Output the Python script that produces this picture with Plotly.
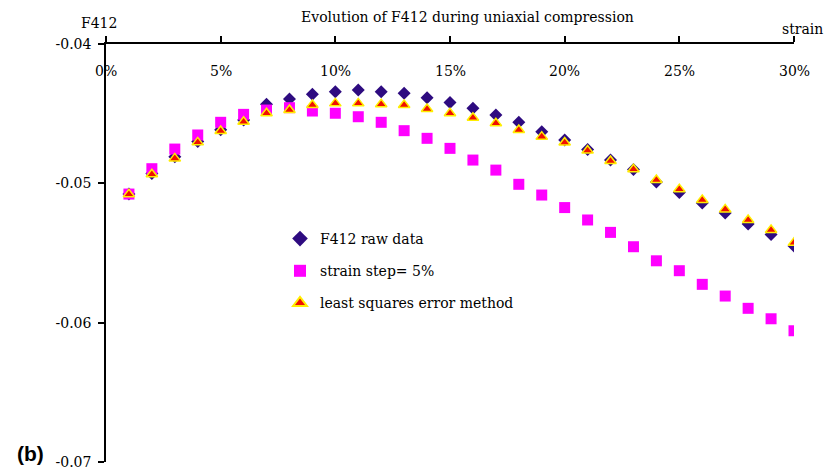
import plotly.graph_objects as go

# strain levels (fraction) and F412 values for the three series
strain = [i / 100 for i in range(1, 31)]

raw_data = [-0.05077, -0.04930, -0.04810, -0.04700, -0.04615, -0.04545,
            -0.04433, -0.04395, -0.04361, -0.04342, -0.04330, -0.04342,
            -0.04354, -0.04385, -0.04419, -0.04462, -0.04510, -0.04562,
            -0.04630, -0.04689, -0.04757, -0.04833, -0.04901, -0.04991,
            -0.05066, -0.05141, -0.05213, -0.05292, -0.05368, -0.05450]

step_5pct = [-0.05077, -0.04895, -0.04754, -0.04653, -0.04562, -0.04505,
             -0.04474, -0.04457, -0.04481, -0.04497, -0.04522, -0.04562,
             -0.04622, -0.04677, -0.04749, -0.04833, -0.04905, -0.05007,
             -0.05084, -0.05174, -0.05263, -0.05352, -0.05455, -0.05556,
             -0.05627, -0.05725, -0.05809, -0.05897, -0.05972, -0.06058]

least_squares = [-0.05079, -0.04935, -0.04821, -0.04706, -0.04625, -0.04558,
                 -0.04497, -0.04474, -0.04438, -0.04426, -0.04426, -0.04433,
                 -0.04438, -0.04467, -0.04497, -0.04529, -0.04569, -0.04617,
                 -0.04665, -0.04707, -0.04765, -0.04840, -0.04899, -0.04976,
                 -0.05043, -0.05120, -0.05187, -0.05263, -0.05335, -0.05426]

x_ticks = [0, 0.05, 0.10, 0.15, 0.20, 0.25, 0.30]
x_tick_labels = ["0%", "5%", "10%", "15%", "20%", "25%", "30%"]
y_ticks = [-0.04, -0.05, -0.06, -0.07]
y_tick_labels = ["-0.04", "-0.05", "-0.06", "-0.07"]

SERIF = "DejaVu Serif"
FS = 14

# plot area in pixels
L, R, T, B = 106, 31, 44, 8
PW, PH = 825 - L - R, 470 - T - B

fig = go.Figure()
fig.add_trace(go.Scatter(
    x=strain, y=raw_data, mode="markers", name="F412 raw data",
    legendgroup="a",
    marker=dict(symbol="diamond", size=10, color="#2e0b80",
                line=dict(width=0))))
fig.add_trace(go.Scatter(
    x=strain, y=step_5pct, mode="markers", name="strain step= 5%",
    legendgroup="b",
    marker=dict(symbol="square", size=11, color="#ff00ff",
                line=dict(width=0))))
fig.add_trace(go.Scatter(
    x=strain, y=least_squares, mode="markers",
    name="least squares error method", legendgroup="c",
    marker=dict(symbol="triangle-up", size=10, color="#f01000",
                line=dict(width=1.5, color="#ffee00"))))

# x tick labels sit just under the top axis line, inside the plot
annotations = [
    dict(text=lab, xref="x", yref="paper", x=v, y=1 - (71 - T) / PH,
         xanchor="center", yanchor="middle", showarrow=False,
         font=dict(family=SERIF, size=FS))
    for v, lab in zip(x_ticks, x_tick_labels)
]
annotations += [
    dict(text="Evolution of F412 during uniaxial compression",
         xref="paper", yref="paper", x=(467 - L) / PW,
         y=1 + (T - 17) / PH, xanchor="center", yanchor="middle",
         showarrow=False, font=dict(family=SERIF, size=FS)),
    dict(text="F412", xref="paper", yref="paper",
         x=(99 - L) / PW, y=1 + (T - 23) / PH,
         xanchor="center", yanchor="middle", showarrow=False,
         font=dict(family=SERIF, size=FS)),
    dict(text="strain", xref="paper", yref="paper",
         x=(825 - L) / PW, y=1 + (T - 29) / PH,
         xanchor="right", yanchor="middle", showarrow=False,
         font=dict(family=SERIF, size=FS)),
    dict(text="<b>(b)</b>", xref="paper", yref="paper",
         x=(30 - L) / PW, y=(470 - B - 453) / PH,
         xanchor="center", yanchor="middle", showarrow=False,
         font=dict(family="Liberation Sans", size=21)),
]

fig.update_layout(
    width=825, height=470,
    margin=dict(l=L, r=R, t=T, b=B, autoexpand=False),
    paper_bgcolor="white", plot_bgcolor="white",
    font=dict(family=SERIF, size=FS, color="black"),
    showlegend=True,
    legend=dict(x=(280 - L) / PW, y=(470 - B - 223) / PH,
                xanchor="left", yanchor="top",
                bgcolor="rgba(0,0,0,0)", tracegroupgap=11,
                font=dict(family=SERIF, size=FS, color="black"),
                itemsizing="constant"),
    xaxis=dict(range=[0, 0.30], side="top", tickvals=x_ticks,
               showticklabels=False, ticks="outside", ticklen=6,
               tickwidth=1.5, tickcolor="black", showline=True,
               linecolor="black", linewidth=1.5, showgrid=False,
               zeroline=False, automargin=False),
    yaxis=dict(range=[-0.07, -0.04], tickvals=y_ticks,
               ticktext=y_tick_labels, ticks="outside", ticklen=6,
               tickwidth=1.5, tickcolor="black", showline=True,
               linecolor="black", linewidth=1.5, showgrid=False,
               zeroline=False, automargin=False, ticklabelstandoff=4,
               tickfont=dict(family=SERIF, size=FS)),
    annotations=annotations,
)

fig.write_html("out.html")
